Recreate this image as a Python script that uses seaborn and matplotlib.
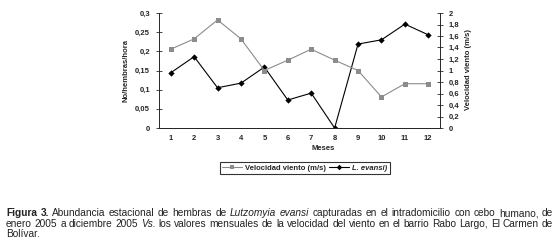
import numpy as np
import pandas as pd
import matplotlib
matplotlib.use('Agg')
import matplotlib.pyplot as plt
import seaborn as sns
from matplotlib.ticker import FuncFormatter, FixedLocator
from matplotlib.lines import Line2D

# datos
meses = [1, 2, 3, 4, 5, 6, 7, 8, 9, 10, 11, 12]
viento = [1.37, 1.55, 1.88, 1.55, 1.0, 1.18, 1.37, 1.18, 1.0, 0.54, 0.77, 0.77]
evansi = [0.144, 0.186, 0.105, 0.117, 0.159, 0.073, 0.091, 0.0, 0.219, 0.230, 0.271, 0.243]

df = pd.DataFrame({'mes': meses, 'viento': viento, 'evansi': evansi})

sns.set_style('white')
plt.rcParams['font.family'] = ['Liberation Sans', 'DejaVu Sans']

W, H = 559, 243
fig = plt.figure(figsize=(W / 100, H / 100), dpi=100)
ax = fig.add_axes([159 / W, 1 - 128 / H, (440 - 159) / W, 115 / H])
ax2 = ax.twinx()

sns.lineplot(data=df, x='mes', y='evansi', ax=ax, color='black', marker='D',
             markersize=3.2, lw=0.8, markeredgewidth=0, legend=False)
sns.lineplot(data=df, x='mes', y='viento', ax=ax2, color='#8c8c8c', marker='s',
             markersize=3.6, lw=0.8, markeredgewidth=0, legend=False)

ax.set_xlim(0.5, 12.5)
ax.set_ylim(0, 0.3)
ax2.set_ylim(0, 2)
ax.set_yticks(np.arange(0, 0.301, 0.05))
ax2.set_yticks(np.arange(0, 2.01, 0.2))

coma = FuncFormatter(lambda v, p: ('%g' % round(v, 3)).replace('.', ','))
ax.yaxis.set_major_formatter(coma)
ax2.yaxis.set_major_formatter(coma)

ax.set_xticks(meses)
ax.xaxis.set_minor_locator(FixedLocator(np.arange(0.5, 13, 1)))
ax.tick_params(axis='x', which='major', length=0, pad=5)
ax.tick_params(axis='x', which='minor', length=4, width=0.6, direction='inout')
ax.tick_params(axis='y', length=5, width=0.6, direction='inout', pad=4)
ax2.tick_params(axis='y', length=5, width=0.6, direction='inout', pad=4)

for a in (ax, ax2):
    for lab in a.get_xticklabels() + a.get_yticklabels():
        lab.set_fontsize(5.5)
        lab.set_fontweight('bold')
    a.spines['top'].set_visible(False)
    a.spines['left'].set_linewidth(0.7)
    a.spines['right'].set_linewidth(0.7)
    a.spines['bottom'].set_linewidth(0.7)
    a.set_xlabel('')
    a.set_ylabel('')
ax.spines['right'].set_visible(False)
ax2.spines['left'].set_visible(False)
ax.patch.set_visible(False)

fig.text(126 / W, 1 - 70 / H, 'No/hembras/hora', rotation=90, ha='center', va='center',
         fontsize=5.5, fontweight='bold')
fig.text(468 / W, 1 - 70 / H, 'Velocidad viento (m/s)', rotation=90, ha='center', va='center',
         fontsize=5.5, fontweight='bold')
fig.text(323 / W, 1 - 148 / H, 'Meses', ha='center', va='center', fontsize=5.5, fontweight='bold')

handles = [Line2D([], [], color='#8c8c8c', marker='s', markersize=3.2, lw=0.8, markeredgewidth=0),
           Line2D([], [], color='black', marker='D', markersize=2.8, lw=0.8, markeredgewidth=0)]
leg = fig.legend(handles, ['Velocidad viento (m/s)', 'L. evansi)'], loc='center',
                 bbox_to_anchor=(305 / W, 1 - 168 / H), ncol=2, frameon=True, fancybox=False,
                 prop={'size': 5.5, 'weight': 'bold'}, handlelength=2.6, handletextpad=0.4,
                 columnspacing=0.4, borderpad=0.35, borderaxespad=0)
leg.get_frame().set_edgecolor('black')
leg.get_frame().set_linewidth(0.8)
leg.get_texts()[1].set_fontstyle('italic')

# pie de figura, justificado
renderer = fig.canvas.get_renderer()
estilos = {'n': {}, 'b': {'fontweight': 'bold'}, 'i': {'fontstyle': 'italic'}}
color_pie = '#222222'

linea1 = [('Figura 3.', 'b'), ('Abundancia estacional de hembras de', 'n'), ('Lutzomyia evansi', 'i'),
          ('capturadas en el intradomicilio con cebo humano, de', 'n')]
linea2 = [('enero 2005 a diciembre 2005', 'n'), ('Vs.', 'i'),
          ('los valores mensuales de la velocidad del viento en el barrio Rabo Largo, El Carmen de', 'n')]
linea3 = [('Bolívar.', 'n')]


def palabras(runs):
    out = []
    for txt, st in runs:
        for w in txt.split():
            out.append((w, st))
    return out


def ancho(txt, size, st='n'):
    t = fig.text(0, 0, txt, fontsize=size, **estilos[st])
    w = t.get_window_extent(renderer).width
    t.remove()
    return w


def ancho_natural(runs, size):
    toks = palabras(runs)
    esp = ancho('a b', size) - ancho('ab', size)
    return sum(ancho(w, size, st) for w, st in toks) + esp * (len(toks) - 1)


# tamano de letra para que la primera linea ocupe casi todo el ancho
cap_size = 7.0 * 540 / ancho_natural(linea1, 7.0)


def linea(runs, y, x0=6, x1=553, justificar=True):
    toks = palabras(runs)
    objs = [fig.text(0, 0, w, fontsize=cap_size, va='baseline', ha='left', color=color_pie,
                     **estilos[st]) for w, st in toks]
    anchos = [t.get_window_extent(renderer).width for t in objs]
    if justificar:
        gap = (x1 - x0 - sum(anchos)) / (len(objs) - 1)
    else:
        gap = ancho('a b', cap_size) - ancho('ab', cap_size)
    x = x0
    for t, w in zip(objs, anchos):
        t.set_position((x / W, 1 - y / H))
        x += w + gap


linea(linea1, 216)
linea(linea2, 226.5)
linea(linea3, 237, justificar=False)

fig.savefig('out.png', dpi=100, facecolor='white')
